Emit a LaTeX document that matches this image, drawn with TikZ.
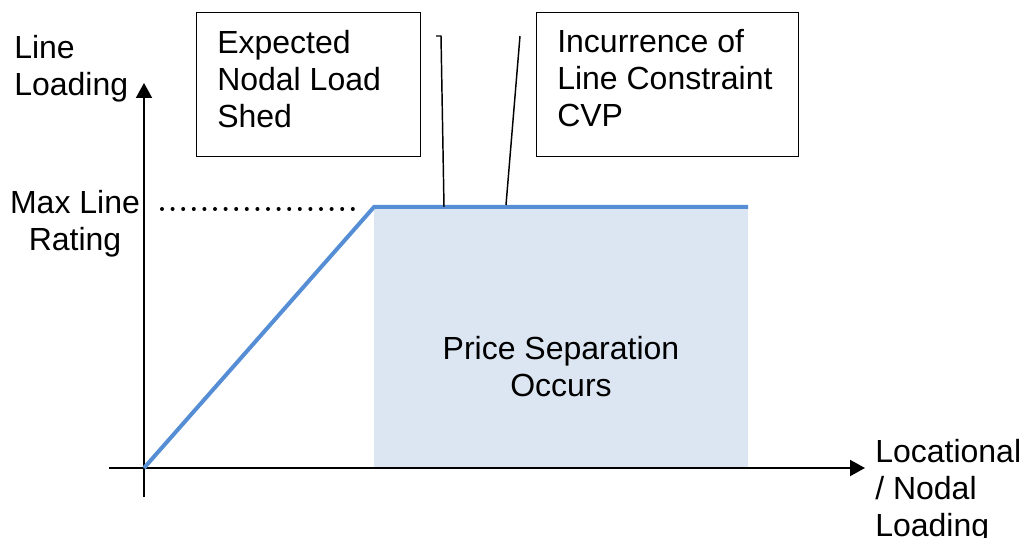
\documentclass[tikz,border=0pt]{standalone}
\usepackage{fontspec}
\setmainfont{Liberation Sans}
\usetikzlibrary{arrows.meta}
\definecolor{curveblue}{HTML}{558ED5}
\definecolor{shadeblue}{HTML}{DCE6F2}
\begin{document}
\begin{tikzpicture}[x=0.75pt,y=-0.75pt,
  lbl/.style={inner sep=0pt,font=\fontsize{24}{27.75}\selectfont},
  boxframe/.style={draw,line width=1.1pt,inner sep=0pt,anchor=north west},
  axisline/.style={line width=1.5pt,-{Triangle[length=11.25pt,width=12pt]}},
  calloutline/.style={line width=1.1pt},
  curve/.style={draw=curveblue,line width=3pt,line join=miter},
  dotline/.style={line width=3pt,line cap=round,dash pattern=on 0pt off 7.95pt}]
\useasboundingbox (0,0) rectangle (1027,538);
% coordinates
\coordinate (o) at (144,468);
\coordinate (ytip) at (144,83);
\coordinate (ybot) at (144,497);
\coordinate (xleft) at (109,468);
\coordinate (xtip) at (865,468);
\coordinate (knee) at (374,207);
\coordinate (cend) at (748,207);
\coordinate (shadebr) at (748,468);
\coordinate (dotL) at (162,209);
\coordinate (dotR) at (353.5,209);
\coordinate (c1a) at (436,36);
\coordinate (c1b) at (441,36);
\coordinate (c1c) at (444,207);
\coordinate (c2a) at (520,36);
\coordinate (c2b) at (506,205);
% shaded region
\fill[shadeblue] (knee) rectangle (shadebr);
% axes
\draw[axisline] (ybot) -- (ytip);
\draw[axisline] (xleft) -- (xtip);
% curve
\draw[curve] (o) -- (knee) -- (cend);
% dotted line
\draw[dotline] (dotL) -- (dotR);
% boxes
\node[boxframe,minimum width=168pt,minimum height=108pt] (box1) at (196,12) {};
\node[boxframe,minimum width=196.5pt,minimum height=108pt] (box2) at (536,12) {};
% callout lines
\draw[calloutline] (c1a) -- (c1b) -- (c1c);
\draw[calloutline] (c2a) -- (c2b);
% texts
\node[lbl,anchor=north west,align=left] (ylab) at (14,35) {Line\\Loading};
\node[lbl,anchor=north west,align=left] (t1) at (217,30) {Expected\\Nodal Load\\Shed};
\node[lbl,anchor=north west,align=left] (t2) at (557,29) {Incurrence of\\Line Constraint\\CVP};
\node[lbl,anchor=north,align=center] (maxlab) at (75,190) {Max Line\\Rating};
\node[lbl,anchor=north,align=center] (sep) at (561,336) {Price Separation\\Occurs};
\node[lbl,anchor=north west,align=left] (xlab) at (875,439) {Locational\\/ Nodal\\Loading};
\end{tikzpicture}
\end{document}
